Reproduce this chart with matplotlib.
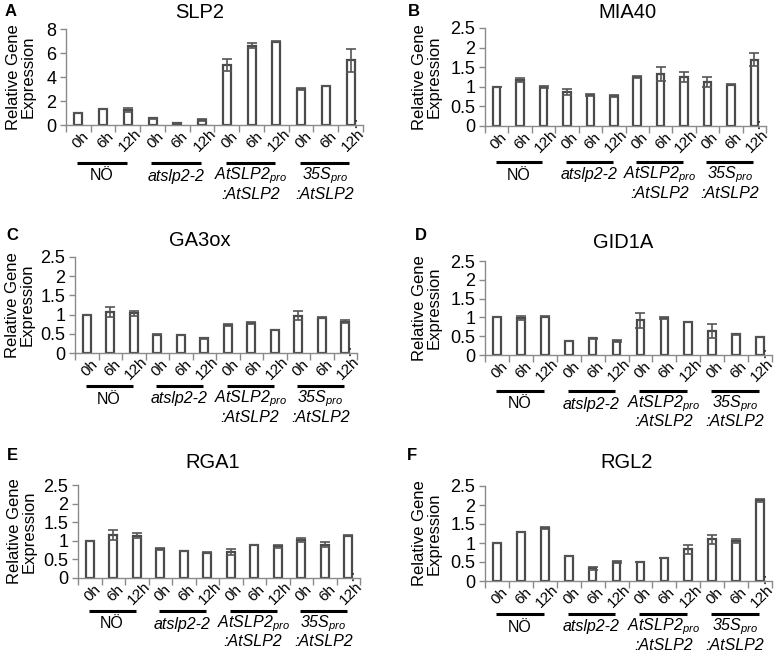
import matplotlib
matplotlib.use("Agg")
import matplotlib.pyplot as plt
import matplotlib.transforms as mtransforms
import numpy as np

plt.rcParams['font.family'] = ['Liberation Sans', 'DejaVu Sans']
plt.rcParams['mathtext.fontset'] = 'custom'
plt.rcParams['mathtext.it'] = 'Liberation Sans:italic'
plt.rcParams['mathtext.rm'] = 'Liberation Sans:italic'

time_labels = ["0h", "6h", "12h"]
group_line1 = ["NÖ", "atslp2-2", r"$AtSLP2_{pro}$", r"$35S_{pro}$"]
group_line2 = ["", "", ":AtSLP2", ":AtSLP2"]
group_italic = [False, True, True, True]

slp2_vals = [1.0, 1.3, 1.25, 0.55, 0.15, 0.4, 5.0, 6.6, 6.92, 2.97, 3.25, 5.38]
slp2_err = [0.0, 0.0, 0.14, 0.02, 0.02, 0.06, 0.48, 0.22, 0.04, 0.08, 0.0, 0.94]

mia40_vals = [1.0, 1.17, 1.0, 0.86, 0.79, 0.77, 1.25, 1.33, 1.25, 1.12, 1.05, 1.69]
mia40_err = [0.0, 0.05, 0.03, 0.08, 0.03, 0.03, 0.02, 0.18, 0.12, 0.12, 0.01, 0.16]

ga3ox_vals = [1.0, 1.08, 1.03, 0.48, 0.47, 0.38, 0.73, 0.78, 0.6, 0.97, 0.92, 0.82]
ga3ox_err = [0.0, 0.13, 0.07, 0.02, 0.0, 0.01, 0.03, 0.03, 0.0, 0.12, 0.01, 0.05]

gid1a_vals = [1.0, 0.98, 1.02, 0.37, 0.44, 0.37, 0.92, 0.98, 0.88, 0.64, 0.55, 0.48]
gid1a_err = [0.0, 0.05, 0.02, 0.0, 0.01, 0.03, 0.19, 0.03, 0.0, 0.18, 0.02, 0.01]

rga1_vals = [1.0, 1.15, 1.14, 0.77, 0.72, 0.68, 0.7, 0.88, 0.85, 1.02, 0.9, 1.14]
rga1_err = [0.0, 0.13, 0.07, 0.03, 0.0, 0.01, 0.07, 0.0, 0.05, 0.06, 0.07, 0.02]

rgl2_vals = [1.0, 1.3, 1.4, 0.65, 0.33, 0.5, 0.5, 0.6, 0.83, 1.1, 1.06, 2.12]
rgl2_err = [0.0, 0.0, 0.02, 0.0, 0.03, 0.02, 0.0, 0.0, 0.13, 0.12, 0.05, 0.05]

W, H = 779, 652
fig = plt.figure(figsize=(W / 100, H / 100), dpi=100)

# (letter, title, vals, err, ymax, yticks, left, right, top, y0, line_off, letter_xy, title_xy, ylabel_x)
panels = [
    ("A", "SLP2", slp2_vals, slp2_err, 8, [0, 2, 4, 6, 8], 66, 363, 29, 125, 38, (5, 12), (200, 12), 21),
    ("B", "MIA40", mia40_vals, mia40_err, 2.5, [0, 0.5, 1, 1.5, 2, 2.5], 485, 766, 28, 126, 36, (408, 12), (627, 12), 427),
    ("C", "GA3ox", ga3ox_vals, ga3ox_err, 2.5, [0, 0.5, 1, 1.5, 2, 2.5], 75, 357, 257, 353, 33, (6, 235), (200, 240), 20),
    ("D", "GID1A", gid1a_vals, gid1a_err, 2.5, [0, 0.5, 1, 1.5, 2, 2.5], 485, 772, 261, 355, 36, (415, 235), (623, 242), 427),
    ("E", "RGA1", rga1_vals, rga1_err, 2.5, [0, 0.5, 1, 1.5, 2, 2.5], 78, 360, 485, 578, 33, (7, 455), (213, 462), 22),
    ("F", "RGL2", rgl2_vals, rgl2_err, 2.5, [0, 0.5, 1, 1.5, 2, 2.5], 485, 772, 486, 581, 33, (407, 455), (627, 463), 427),
]

axis_col = "#8a8a8a"
bar_edge = "#4a4a4a"

for (letter, title, vals, err, ymax, yticks, left, right, top, y0, line_off, lxy, txy, ylx) in panels:
    ax = fig.add_axes([left / W, 1 - y0 / H, (right - left) / W, (y0 - top) / H])
    x = np.arange(len(vals))
    ax.bar(x, vals, width=0.32, color="white", edgecolor=bar_edge, linewidth=1.6, zorder=2)
    ax.errorbar(x, vals, yerr=err, fmt="none", ecolor="#555555", elinewidth=1.2,
                capsize=3.5, capthick=1.2, zorder=3)
    ax.set_xlim(-0.5, len(vals) - 0.5)
    ax.set_ylim(0, ymax)
    ax.set_yticks(yticks)
    ax.set_yticklabels([("%g" % t) for t in yticks], fontsize=13)
    ax.set_xticks(np.arange(-0.5, len(vals)))
    ax.set_xticklabels([])
    ax.tick_params(axis="x", direction="out", length=5, color=axis_col, width=1)
    ax.tick_params(axis="y", direction="out", length=4, color=axis_col, width=1, pad=3)
    for s in ["top", "right"]:
        ax.spines[s].set_visible(False)
    for s in ["left", "bottom"]:
        ax.spines[s].set_color(axis_col)
        ax.spines[s].set_linewidth(1)

    trans = mtransforms.blended_transform_factory(ax.transData, fig.transFigure)
    for i in range(len(vals)):
        ax.text(i + 0.1, 1 - (y0 + 15) / H, time_labels[i % 3], rotation=45,
                ha="center", va="center", fontsize=11, transform=trans)
    for g in range(4):
        ax.plot([3 * g - 0.05, 3 * g + 1.95], [1 - (y0 + line_off) / H] * 2, color="black",
                lw=2.2, transform=trans, clip_on=False, solid_capstyle="butt")
        style = "italic" if group_italic[g] else "normal"
        if group_line2[g]:
            ax.text(3 * g + 0.95, 1 - (y0 + line_off + 13) / H, group_line1[g], ha="center",
                    va="center", fontsize=11.5, transform=trans, style=style)
            ax.text(3 * g + 0.95, 1 - (y0 + line_off + 31) / H, group_line2[g], ha="center",
                    va="center", fontsize=11.5, transform=trans, style=style)
        else:
            ax.text(3 * g + 0.95, 1 - (y0 + line_off + 13) / H, group_line1[g], ha="center",
                    va="center", fontsize=11.5, transform=trans, style=style)
    # small dotted mark at the right end of the axis
    ax.plot([11.22, 11.22], [1 - (y0 - 5) / H, 1 - (y0 + 8) / H], color="#333333", lw=1.3,
            ls=(0, (1, 2.5)), transform=trans, clip_on=False)

    fig.text(lxy[0] / W, 1 - lxy[1] / H, letter, fontsize=12, fontweight="bold", ha="left", va="center")
    fig.text(txy[0] / W, 1 - txy[1] / H, title, fontsize=14.5, ha="center", va="center")
    fig.text(ylx / W, 1 - ((top + y0) / 2) / H, "Relative Gene\nExpression", rotation=90,
             fontsize=12, ha="center", va="center", multialignment="center", linespacing=1.0)

fig.savefig("out.png", dpi=100)
